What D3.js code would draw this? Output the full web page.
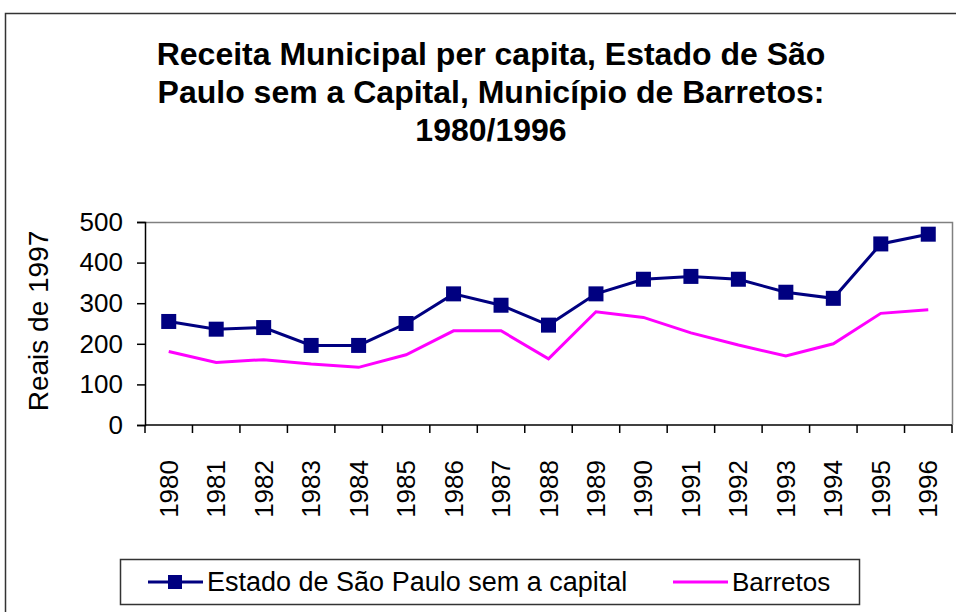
<!DOCTYPE html>
<html>
<head>
<meta charset="utf-8">
<script src="https://cdn.jsdelivr.net/npm/d3@7"></script>
<style>
  body { margin: 0; background: #fff; }
  svg { font-family: Arial, "Liberation Sans", sans-serif; }
</style>
</head>
<body>
<svg id="chart" width="956" height="612"></svg>
<script>
// data
const years = ["1980","1981","1982","1983","1984","1985","1986","1987","1988",
               "1989","1990","1991","1992","1993","1994","1995","1996"];
const estado = [255,236,240,196,196,250,323,295,246,323,359,366,359,327,312,446,470];
const barretos = [181,154,161,150,142,173,232,232,163,279,265,227,197,170,200,275,284];
const yTicks = [0,100,200,300,400,500];
const titleLines = ["Receita Municipal per capita, Estado de São",
                    "Paulo sem a Capital, Município de Barretos:",
                    "1980/1996"];
const yLabel = "Reais de 1997";
const seriesNames = ["Estado de São Paulo sem a capital", "Barretos"];

const svg = d3.select("#chart");

// outer chart frame (runs off the right and bottom edges)
svg.append("rect")
  .attr("x", 5.5).attr("y", 13.5)
  .attr("width", 1000).attr("height", 700)
  .attr("fill", "#fff")
  .attr("stroke", "#333")
  .attr("stroke-width", 1.5);

// title
svg.append("g").selectAll("text")
  .data(titleLines)
  .enter()
  .append("text")
  .attr("x", 491)
  .attr("y", (d, i) => 65 + i * 38)
  .attr("text-anchor", "middle")
  .style("font-size", "32px")
  .style("font-weight", "bold")
  .text(d => d);

const plot = {left: 145, right: 952, top: 222, bottom: 425};

const xScale = d3.scaleBand().domain(years).range([plot.left, plot.right]).padding(0);
const yScale = d3.scaleLinear().domain([0, 500]).range([plot.bottom, plot.top]);
const cx = d => xScale(d) + xScale.bandwidth() / 2;

// plot area border (top & right grey)
svg.append("path")
  .attr("d", `M${plot.left},${plot.top + 0.5}H${plot.right + 0.5}V${plot.bottom}`)
  .attr("fill", "none")
  .attr("stroke", "#808080")
  .attr("stroke-width", 1.5);

// y axis
const yAxis = d3.axisLeft(yScale).tickValues(yTicks).tickSize(8).tickPadding(14);
const gy = svg.append("g").attr("transform", `translate(${plot.left},0)`).call(yAxis);
gy.select(".domain").attr("stroke", "#000").attr("stroke-width", 1.5);
gy.selectAll(".tick line").attr("stroke", "#000").attr("stroke-width", 1.5);
gy.selectAll(".tick text")
  .style("font-size", "26px")
  .style("font-family", "Arial, 'Liberation Sans', sans-serif")
  .attr("fill", "#000");

// x axis: line, ticks at band edges, rotated labels
const gx = svg.append("g");
gx.append("line")
  .attr("x1", plot.left).attr("x2", plot.right)
  .attr("y1", plot.bottom).attr("y2", plot.bottom)
  .attr("stroke", "#000").attr("stroke-width", 1.5);
gx.selectAll("line.tk")
  .data(years.concat(["end"]))
  .enter()
  .append("line")
  .attr("class", "tk")
  .attr("x1", d => d === "end" ? plot.right : xScale(d))
  .attr("x2", d => d === "end" ? plot.right : xScale(d))
  .attr("y1", plot.bottom)
  .attr("y2", plot.bottom + 8)
  .attr("stroke", "#000").attr("stroke-width", 1.5);
gx.selectAll("text")
  .data(years)
  .enter()
  .append("text")
  .attr("transform", d => `translate(${cx(d) + 9},460) rotate(-90)`)
  .attr("text-anchor", "end")
  .style("font-size", "26px")
  .text(d => d);

// y axis title
svg.append("text")
  .attr("transform", "translate(48,321) rotate(-90)")
  .attr("text-anchor", "middle")
  .style("font-size", "28px")
  .text(yLabel);

// Barretos line
const lineB = d3.line().x((d, i) => cx(years[i])).y(d => yScale(d));
svg.append("path")
  .datum(barretos)
  .attr("d", lineB)
  .attr("fill", "none")
  .attr("stroke", "#FF00FF")
  .attr("stroke-width", 3);

// Estado line with squares
svg.append("path")
  .datum(estado)
  .attr("d", lineB)
  .attr("fill", "none")
  .attr("stroke", "#000080")
  .attr("stroke-width", 3);

svg.selectAll("rect.mk")
  .data(estado)
  .enter()
  .append("rect")
  .attr("class", "mk")
  .attr("x", (d, i) => cx(years[i]) - 7.5)
  .attr("y", d => yScale(d) - 7.5)
  .attr("width", 15)
  .attr("height", 15)
  .attr("fill", "#000080");

// legend
const lg = svg.append("g");
lg.append("rect")
  .attr("x", 120.5).attr("y", 559.5)
  .attr("width", 739).attr("height", 45)
  .attr("fill", "#fff")
  .attr("stroke", "#333")
  .attr("stroke-width", 1.5);
lg.append("line")
  .attr("x1", 148).attr("x2", 203).attr("y1", 582).attr("y2", 582)
  .attr("stroke", "#000080").attr("stroke-width", 3);
lg.append("rect")
  .attr("x", 168).attr("y", 575).attr("width", 14).attr("height", 14)
  .attr("fill", "#000080");
lg.append("text")
  .attr("x", 207).attr("y", 591)
  .style("font-size", "27px")
  .text(seriesNames[0]);
lg.append("line")
  .attr("x1", 673).attr("x2", 728).attr("y1", 582).attr("y2", 582)
  .attr("stroke", "#FF00FF").attr("stroke-width", 3);
lg.append("text")
  .attr("x", 732).attr("y", 591)
  .style("font-size", "26px")
  .text(seriesNames[1]);
</script>
</body>
</html>
